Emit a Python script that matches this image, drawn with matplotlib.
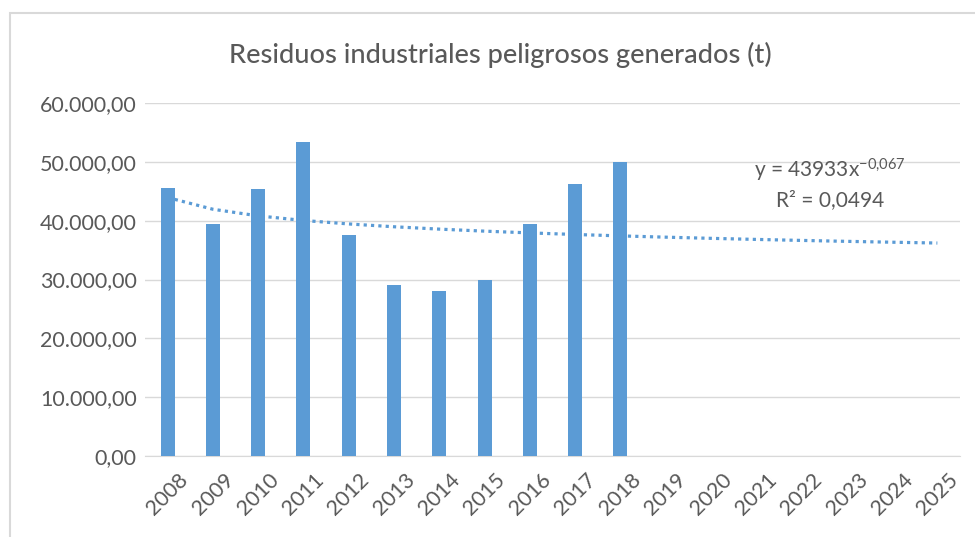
import matplotlib
matplotlib.use("Agg")
import matplotlib.pyplot as plt
from matplotlib.patches import Rectangle
import numpy as np

years = [str(y) for y in range(2008, 2026)]
values = [45500, 39500, 45300, 53300, 37500, 29100, 28000, 29900, 39500, 46150, 50000]
trend_a = 43933
trend_b = -0.067
eq_text = "y = 43933x$^{-0{,}067}$"
r2_text = "R² = 0,0494"
yticks = [0, 10000, 20000, 30000, 40000, 50000, 60000]
title = "Residuos industriales peligrosos generados (t)"

plt.rcParams['font.family'] = ['Lato', 'DejaVu Sans']
plt.rcParams['mathtext.fontset'] = 'custom'
plt.rcParams['mathtext.rm'] = 'Lato'
plt.rcParams['mathtext.it'] = 'Lato'
plt.rcParams['mathtext.default'] = 'regular'
bar_color = "#5b9bd5"
text_color = "#595959"
grid_color = "#d9d9d9"

fig = plt.figure(figsize=(9.75, 5.37), dpi=100)
fig.patches.append(Rectangle((10/975, -0.1), 1.1, 1 - 13/537 + 0.1, transform=fig.transFigure,
                             fill=False, edgecolor=grid_color, linewidth=1.5))

ax = fig.add_axes([145/975, 1 - 456/537, 815/975, (456 - 103)/537])
x = np.arange(len(years))
ax.bar(x[:len(values)], values, width=0.31, color=bar_color, zorder=3)

xt = np.arange(1, len(years) + 1)
trend = trend_a * xt.astype(float) ** trend_b
ax.plot(x, trend, linestyle=(0, (1, 1.3)), color=bar_color, linewidth=2.3, zorder=4)

ax.set_xlim(-0.5, len(years) - 0.5)
ax.set_ylim(0, 60000)
ax.set_yticks(yticks)
ax.set_yticklabels([f"{v:,.2f}".replace(",", "X").replace(".", ",").replace("X", ".") for v in yticks])
ax.set_xticks(x)
ax.set_xticklabels(years, rotation=45, ha='center')
ax.tick_params(axis='both', length=0, colors=text_color, labelsize=15.5)
ax.tick_params(axis='y', pad=6)
ax.tick_params(axis='x', pad=10)
ax.grid(axis='y', color=grid_color, linewidth=1, zorder=0)
for s in ['top', 'right', 'left']:
    ax.spines[s].set_visible(False)
ax.spines['bottom'].set_color(grid_color)

fig.text(830/975, 1 - 170/537, eq_text, ha='center', va='center', fontsize=15, color=text_color)
fig.text(830/975, 1 - 200/537, r2_text, ha='center', va='center', fontsize=15, color=text_color)

fig.text(500/975, 1 - 55/537, title, ha='center', va='center', fontsize=19.5,
         fontweight='medium', color=text_color)

fig.savefig("out.png", dpi=100)
